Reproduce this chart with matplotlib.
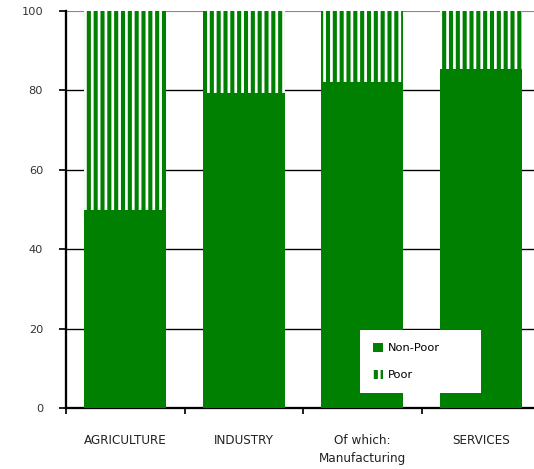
import matplotlib
matplotlib.use("Agg")
import matplotlib.pyplot as plt
from matplotlib.patches import Patch

# values (share of workers, %)
sectors = ["AGRICULTURE", "INDUSTRY", "Of which:\nManufacturing", "SERVICES"]
non_poor = [50.0, 79.4, 82.1, 85.4]
poor = [100 - v for v in non_poor]
y_ticks = [0, 20, 40, 60, 80, 100]

GREEN = "#008000"
DPI = 82

plt.rcParams["font.family"] = "DejaVu Sans"
plt.rcParams["hatch.linewidth"] = 2.4

fig = plt.figure(figsize=(534 / DPI, 469 / DPI), dpi=DPI)
ax = fig.add_axes([66 / 534, 61 / 469, 474 / 534, 397 / 469])

x = [i + 0.5 for i in range(len(sectors))]
ax.bar(x, non_poor, width=0.69, color=GREEN, linewidth=0, zorder=3)
ax.bar(x, poor, bottom=non_poor, width=0.69, facecolor=GREEN,
       edgecolor="white", hatch="||", linewidth=0, zorder=3)

ax.set_xlim(0, 4)
ax.set_ylim(0, 100)
ax.set_yticks(y_ticks)
ax.set_xticks(range(5))
ax.set_xticklabels([])
ax.set_xticks(x, minor=True)
ax.set_xticklabels(sectors, minor=True, fontsize=10.5, color="#222222",
                   linespacing=1.5, va="top")
ax.tick_params(axis="x", which="minor", length=0, pad=23)
ax.tick_params(axis="x", which="major", length=5, width=1.5, direction="out")
ax.tick_params(axis="y", length=6, width=1.5, labelsize=10, pad=14,
               labelcolor="#333333")

for t in y_ticks[1:-1]:
    ax.axhline(t, color="black", lw=1.2, zorder=1)
ax.axhline(100, color="#888888", lw=1, zorder=1)

for s in ["top", "right"]:
    ax.spines[s].set_visible(False)
ax.spines["left"].set_linewidth(2)
ax.spines["bottom"].set_linewidth(2)

handles = [Patch(facecolor=GREEN, edgecolor=GREEN, linewidth=0, label="Non-Poor"),
           Patch(facecolor=GREEN, edgecolor="white", hatch="||", linewidth=0, label="Poor")]
leg = fig.legend(handles=handles, loc="lower left",
                 bbox_to_anchor=(360 / 534, 76 / 469, 121 / 534, 61 / 469),
                 mode="expand", fontsize=10, frameon=True, fancybox=False,
                 handlelength=0.9, handleheight=0.9, handletextpad=0.45,
                 labelspacing=1.45, borderpad=1.1, borderaxespad=0)
leg.get_frame().set_edgecolor("none")
leg.get_frame().set_facecolor("white")
leg.get_frame().set_alpha(1)

fig.savefig("out.png", dpi=DPI)
